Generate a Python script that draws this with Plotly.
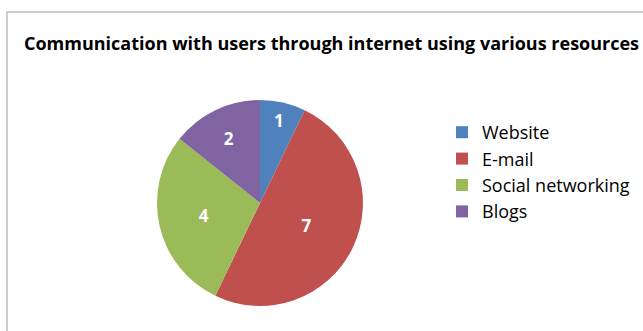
import plotly.graph_objects as go

categories = ["Website", "E-mail", "Social networking", "Blogs"]
values = [1, 7, 4, 2]
colors = ["#4F81BD", "#C0504D", "#9BBB59", "#8064A2"]
title_text = "Communication with users through internet using various resources"

W, H = 643, 331
cx, cy, D = 260, 203, 206

fig = go.Figure(go.Pie(
    labels=categories,
    values=values,
    sort=False,
    direction="clockwise",
    rotation=0,
    marker=dict(colors=colors, line=dict(width=0)),
    textinfo="value",
    textposition="inside",
    insidetextorientation="horizontal",
    textfont=dict(family="Open Sans", size=17, color="white", weight="bold"),
    domain=dict(x=[(cx - D / 2) / W, (cx + D / 2) / W],
                y=[(H - cy - D / 2) / H, (H - cy + D / 2) / H]),
    hoverinfo="label+value",
))

fig.update_layout(
    width=W, height=H,
    margin=dict(l=0, r=0, t=0, b=0),
    paper_bgcolor="white",
    title=dict(text="<b>" + title_text + "</b>", x=24 / W, xanchor="left",
               y=1 - 44 / H, yanchor="middle",
               font=dict(family="Open Sans", size=18, color="black")),
    legend=dict(x=442 / W, y=1 - 114 / H, xanchor="left", yanchor="top",
                font=dict(family="Open Sans", size=18, color="black"),
                itemwidth=30, tracegroupgap=0),
    shapes=[dict(type="rect", xref="paper", yref="paper",
                 x0=7 / W, x1=1.02, y0=-0.02, y1=1 - 12 / H,
                 line=dict(color="#BFBFBF", width=1.5))],
)

fig.write_html("out.html")
